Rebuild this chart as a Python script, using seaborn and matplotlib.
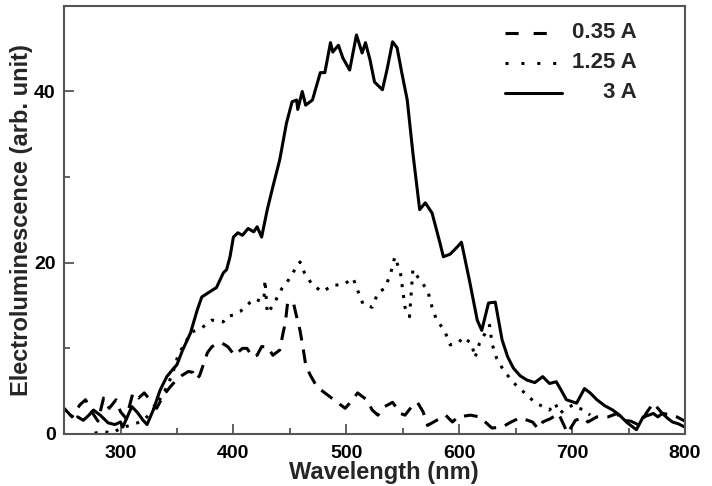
import matplotlib
matplotlib.use("Agg")
import matplotlib.pyplot as plt
from matplotlib.lines import Line2D
from matplotlib.ticker import MultipleLocator
import seaborn as sns

# 0.35 A (dashed)
wl_035 = [250, 257, 264, 269, 275, 280, 285, 290, 296, 300, 305, 311, 316, 321, 326,
          332, 338, 344, 348, 354, 360, 364, 367, 370, 377, 381, 386, 390, 395, 401,
          408, 412, 417, 421, 425, 430, 435, 441, 444, 446, 448, 453, 456, 459, 462,
          464, 468, 474, 483, 492, 499, 505, 510, 518, 523, 528, 534, 541, 548, 552,
          558, 563, 568, 572, 580, 588, 594, 599, 610, 618, 629, 638, 646, 654, 665,
          670, 674, 681, 688, 696, 703, 710, 714, 722, 732, 740, 744, 752, 760, 766,
          772, 780, 790, 800]
el_035 = [3.0, 2.0, 3.4, 4.0, 2.5, 1.5, 4.2, 3.0, 4.0, 2.6, 1.8, 4.8, 4.2, 4.8, 4.0,
          3.0, 4.5, 5.5, 6.1, 6.8, 7.3, 7.2, 6.4, 6.8, 9.5, 10.2, 10.6, 10.6, 10.2, 9.2,
          10.0, 10.0, 9.0, 9.2, 10.2, 10.2, 9.2, 9.8, 11.8, 13.0, 15.3, 15.4, 13.7, 12.1, 9.8,
          8.1, 6.9, 5.5, 4.6, 3.7, 3.0, 3.9, 4.8, 4.0, 2.8, 2.2, 3.2, 3.7, 2.4, 2.2,
          3.2, 3.7, 2.6, 1.0, 1.6, 2.2, 1.4, 2.0, 2.2, 2.0, 0.7, 0.8, 1.4, 1.9, 1.4,
          0.6, 1.4, 1.8, 2.4, 0.1, 1.6, 1.9, 1.4, 2.0, 2.0, 2.4, 1.6, 1.5, 1.0, 2.5,
          3.6, 2.4, 2.2, 1.5]

# 1.25 A (dotted)
wl_125 = [277, 285, 292, 301, 308, 315, 322, 330, 336, 341, 346, 351, 357, 363, 372,
          381, 391, 394, 400, 406, 415, 419, 424, 427, 428, 430, 435, 439, 443, 447,
          453, 459, 463, 470, 479, 488, 497, 506, 510, 515, 523, 528, 534, 539, 543,
          548, 550, 552, 556, 559, 565, 572, 576, 580, 587, 592, 600, 603, 611, 614,
          618, 627, 629, 633, 639, 648, 658, 667, 674, 680, 685, 689, 695, 701, 706,
          711, 716]
el_125 = [0.1, 0.3, 0.1, 0.7, 1.0, 1.3, 1.8, 3.0, 4.3, 5.5, 7.0, 9.2, 10.6, 11.9, 12.4,
          13.3, 13.1, 13.7, 13.9, 14.3, 15.4, 15.8, 15.5, 15.6, 18.0, 14.1, 15.0, 16.0, 17.0, 17.6,
          18.9, 20.1, 18.8, 17.4, 16.6, 17.4, 17.4, 18.2, 16.8, 15.1, 14.8, 16.5, 17.0, 18.6, 20.7,
          18.8, 16.8, 14.8, 13.7, 19.2, 18.0, 16.8, 14.8, 13.3, 12.1, 10.4, 10.7, 11.3, 10.6, 8.9,
          10.6, 12.7, 10.6, 8.9, 7.5, 6.0, 4.8, 3.7, 3.2, 2.8, 3.6, 2.4, 3.0, 3.4, 3.0,
          2.8, 2.2]

# 3 A (solid)
wl_3 = [262, 267, 272, 276, 282, 289, 295, 300, 302, 306, 310, 315, 320, 323.5, 329,
        335, 341, 346, 350, 355, 362, 368, 372, 379, 385, 391, 394, 397, 400, 404,
        408, 413, 418, 421, 425, 430, 435, 441, 447, 452, 456, 457, 461, 464, 470,
        477, 481, 486, 488, 493, 497, 503, 509, 514, 517, 521, 525, 532, 536, 541,
        545, 549, 554, 559, 565, 570, 576, 583, 586, 592, 598, 602, 609, 616, 620,
        626, 632, 638, 643, 648, 654, 660, 667, 674, 680, 686, 690, 695, 704, 711,
        716, 722, 729, 736, 742, 749, 757, 763, 768, 772, 776, 780, 785, 789, 794,
        800]
el_3 = [2.0, 1.6, 2.2, 2.8, 2.2, 1.3, 1.1, 1.4, 0.8, 2.0, 3.2, 2.5, 1.6, 1.1, 2.8,
        5.1, 6.7, 7.5, 8.1, 9.8, 11.8, 14.5, 16.0, 16.6, 17.1, 18.8, 19.2, 20.7, 23.0, 23.5,
        23.2, 24.0, 23.6, 24.2, 23.0, 26.2, 28.9, 32.0, 36.3, 38.8, 39.0, 37.9, 40.0, 38.4, 39.0,
        42.2, 42.2, 45.7, 44.6, 45.4, 43.9, 42.5, 46.6, 44.5, 45.7, 43.7, 41.1, 40.2, 42.5, 45.8,
        45.1, 42.3, 39.0, 32.8, 26.2, 27.0, 25.8, 22.3, 20.7, 21.0, 21.8, 22.4, 18.0, 13.3, 12.1,
        15.3, 15.4, 11.0, 9.0, 7.7, 6.8, 6.3, 6.0, 6.7, 5.9, 6.1, 5.2, 4.0, 3.6, 5.3,
        4.8, 4.0, 3.3, 2.8, 2.2, 1.3, 0.5, 2.0, 2.2, 2.4, 2.0, 2.4, 1.8, 1.4, 1.2,
        0.8]

labels = ["0.35 A", "1.25 A", "3 A"]
styles = [(0, (4.5, 3)), (0, (1, 2.6)), "-"]
key_styles = [(0, (4.3, 4.9)), (0, (1, 4.2)), "-"]

sns.set_style("ticks")
plt.rcParams["font.family"] = ["Liberation Sans", "DejaVu Sans"]
plt.rcParams["font.weight"] = "bold"

fig = plt.figure(figsize=(7.12, 4.86), dpi=100)
ax = fig.add_axes([0.09, 0.107, 0.872, 0.881])

series = [(wl_035, el_035), (wl_125, el_125), (wl_3, el_3)]
for (x, y), ls in zip(series, styles):
    sns.lineplot(x=x, y=y, ax=ax, color="black", linestyle=ls, lw=2.2)

ax.set_xlim(250, 800)
ax.set_ylim(0, 50)
ax.xaxis.set_major_locator(MultipleLocator(100))
ax.xaxis.set_minor_locator(MultipleLocator(50))
ax.yaxis.set_major_locator(MultipleLocator(20))
ax.yaxis.set_minor_locator(MultipleLocator(10))
ax.tick_params(which="both", direction="in", color="#555555", width=1.3,
               labelsize=14, labelcolor="black")
ax.tick_params(which="major", length=7)
ax.tick_params(which="minor", length=4.5)
ax.tick_params(axis="x", pad=8)
ax.tick_params(axis="y", pad=6)
for sp in ax.spines.values():
    sp.set_visible(True)
    sp.set_color("#555555")
    sp.set_linewidth(1.5)

ax.set_xlabel("Wavelength (nm)", fontsize=17, fontweight="bold")
ax.xaxis.set_label_coords(0.515, -0.062, transform=ax.transAxes)
ax.xaxis.label.set_va("top")
ax.set_ylabel("Electroluminescence (arb. unit)", fontsize=17, fontweight="bold", labelpad=1)

# legend: key on the left, text right-aligned
rows = [0.937, 0.867, 0.797]
ends = [0.778, 0.800, 0.802]
for ls, lab, yy, xe in zip(key_styles, labels, rows, ends):
    ax.add_line(Line2D([0.710, xe], [yy, yy], transform=ax.transAxes,
                       color="black", linestyle=ls, lw=2.2))
    ax.text(0.923, yy, lab, transform=ax.transAxes, ha="right", va="center",
            fontsize=16, fontweight="bold")

fig.savefig("out.png", dpi=100)
